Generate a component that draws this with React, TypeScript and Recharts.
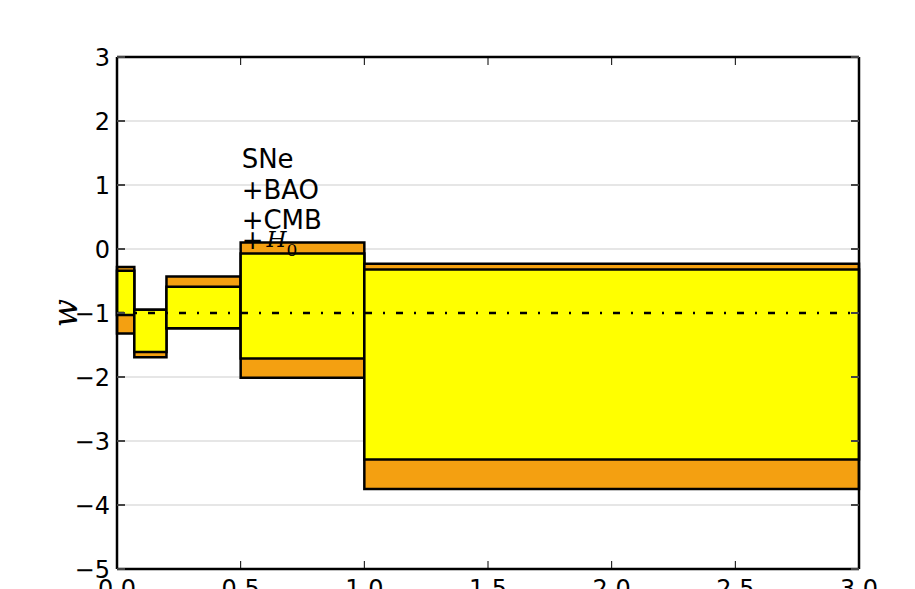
import {
  ComposedChart,
  XAxis,
  YAxis,
  CartesianGrid,
  ReferenceArea,
  ReferenceLine,
  ReferenceDot,
  Label,
} from 'recharts';

// redshift bins and the w constraints in each (outer = orange band, inner = yellow band)
const binEdges = [0, 0.07, 0.2, 0.5, 1.0, 3.0];
const outerLow = [-1.32, -1.69, -1.24, -2.01, -3.75];
const outerHigh = [-0.28, -0.95, -0.43, 0.1, -0.23];
const innerLow = [-1.03, -1.61, -1.24, -1.71, -3.29];
const innerHigh = [-0.34, -0.95, -0.59, -0.07, -0.32];

const xTicks = [0, 0.5, 1, 1.5, 2, 2.5, 3];
const yTicks = [-5, -4, -3, -2, -1, 0, 1, 2, 3];
const annotationLines = ['SNe', '+BAO', '+CMB'];

const bins = outerLow.map((_, i) => ({
  x1: binEdges[i],
  x2: binEdges[i + 1],
  outerLow: outerLow[i],
  outerHigh: outerHigh[i],
  innerLow: innerLow[i],
  innerHigh: innerHigh[i],
}));

const chartData = binEdges.map((x) => ({ x }));

const ORANGE = '#f4a011';
const YELLOW = '#ffff00';
const EDGE = 2.5;

const fmtY = (v: number) => (v < 0 ? `\u2212${Math.abs(v)}` : String(v));

const renderAnnotation = ({ viewBox }: any) => {
  const x = viewBox.x + viewBox.width / 2 + 1;
  const y = viewBox.y + viewBox.height / 2;
  return (
    <text fontSize={26} fill="#000" fontFamily="DejaVu Sans">
      {annotationLines.map((t, i) => (
        <tspan key={t} x={x} y={y - 81 + i * 30.7}>
          {t}
        </tspan>
      ))}
      <tspan x={x} y={y}>
        +
      </tspan>
      <tspan fontFamily="DejaVu Serif" fontStyle="italic" fontSize={23} dx={3} dy={-2}>
        H
      </tspan>
      <tspan fontFamily="DejaVu Serif" fontSize={17} dy={9}>
        0
      </tspan>
    </text>
  );
};

const renderWLabel = ({ viewBox }: any) => {
  const x = viewBox.x + 65;
  const y = viewBox.y + viewBox.height / 2;
  return (
    <text
      x={x}
      y={y}
      textAnchor="middle"
      dominantBaseline="central"
      fontFamily="DejaVu Serif"
      fontStyle="italic"
      fontSize={33}
      fill="#000"
      transform={`rotate(-90 ${x} ${y})`}
    >
      w
    </text>
  );
};

export default function App() {
  return (
    <div
      style={{
        position: 'absolute',
        left: 0,
        top: 0,
        width: 915,
        height: 589,
        overflow: 'hidden',
        background: '#fff',
      }}
    >
      <ComposedChart
        width={915}
        height={620}
        data={chartData}
        margin={{ top: 56, right: 55, left: 0, bottom: 11 }}
        style={{ fontFamily: 'DejaVu Sans' }}
      >
        <CartesianGrid vertical={false} stroke="#e6e6e6" strokeWidth={2} />
        <XAxis
          dataKey="x"
          type="number"
          domain={[0, 3]}
          ticks={xTicks}
          interval={0}
          allowDataOverflow
          height={40}
          tickSize={-8}
          tickMargin={19}
          axisLine={{ stroke: '#000', strokeWidth: EDGE }}
          tickLine={{ stroke: '#000', strokeWidth: 1 }}
          tick={{ fill: '#000', fontSize: 24 }}
          tickFormatter={(v: number) => v.toFixed(1)}
        />
        <XAxis
          xAxisId="top"
          orientation="top"
          dataKey="x"
          type="number"
          domain={[0, 3]}
          ticks={xTicks}
          interval={0}
          allowDataOverflow
          height={1}
          tickSize={-8}
          axisLine={{ stroke: '#000', strokeWidth: EDGE }}
          tickLine={{ stroke: '#000', strokeWidth: 1 }}
          tickFormatter={() => ''}
        />
        <YAxis
          type="number"
          domain={[-5, 3]}
          ticks={yTicks}
          interval={0}
          allowDataOverflow
          width={117}
          tickSize={-8}
          tickMargin={15}
          axisLine={{ stroke: '#000', strokeWidth: EDGE }}
          tickLine={{ stroke: '#444', strokeWidth: 2 }}
          tick={{ fill: '#000', fontSize: 24 }}
          tickFormatter={fmtY}
        >
          <Label content={renderWLabel} />
        </YAxis>
        <YAxis
          yAxisId="right"
          orientation="right"
          type="number"
          domain={[-5, 3]}
          ticks={yTicks}
          interval={0}
          allowDataOverflow
          width={1}
          tickSize={-8}
          axisLine={{ stroke: '#000', strokeWidth: EDGE }}
          tickLine={{ stroke: '#444', strokeWidth: 2 }}
          tickFormatter={() => ''}
        />
        {bins.map((b, i) => [
          <ReferenceArea
            key={`o${i}`}
            x1={b.x1}
            x2={b.x2}
            y1={b.outerLow}
            y2={b.outerHigh}
            fill={ORANGE}
            fillOpacity={1}
            stroke="#000"
            strokeWidth={EDGE}
          />,
          <ReferenceArea
            key={`i${i}`}
            x1={b.x1}
            x2={b.x2}
            y1={b.innerLow}
            y2={b.innerHigh}
            fill={YELLOW}
            fillOpacity={1}
            stroke="#000"
            strokeWidth={EDGE}
          />,
        ])}
        <ReferenceLine
          y={-1}
          stroke="#000"
          strokeWidth={2.5}
          strokeDasharray="7 11 2 11"
        />
        <ReferenceDot x={0.5} y={0} r={1} fill="none" stroke="none">
          <Label content={renderAnnotation} />
        </ReferenceDot>
      </ComposedChart>
    </div>
  );
}
